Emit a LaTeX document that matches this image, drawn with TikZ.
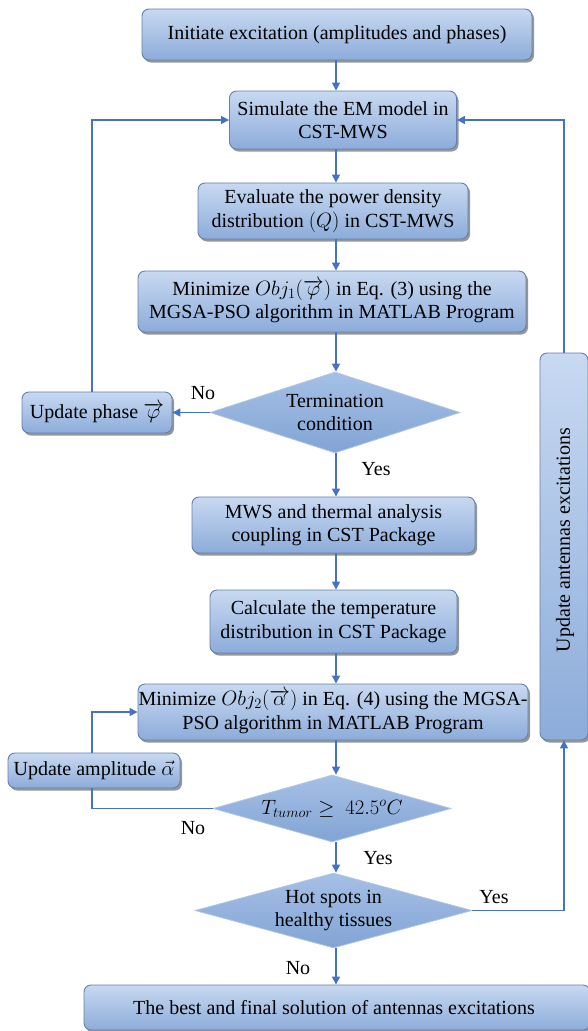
\documentclass[tikz,border=0pt]{standalone}
\usepackage{fontspec}
\setmainfont{Liberation Serif}
\usetikzlibrary{shapes.geometric,arrows.meta,shadows,calc}

\definecolor{arrowblue}{RGB}{68,114,196}
\definecolor{boxtop}{RGB}{200,217,241}
\definecolor{boxbot}{RGB}{140,172,218}
\definecolor{boxedge}{RGB}{100,128,172}
\definecolor{diatop}{RGB}{165,192,230}
\definecolor{diabot}{RGB}{130,164,212}
\definecolor{diaedge}{RGB}{175,198,230}

\begin{document}
\begin{tikzpicture}[x=1pt,y=-1pt,
  every node/.style={font=\fontsize{20}{23.5}\selectfont},
  box/.style={rectangle, rounded corners=7pt, top color=boxtop, bottom color=boxbot,
    draw=boxedge, line width=0.9pt, align=center, inner sep=0pt,
    drop shadow={shadow xshift=2pt, shadow yshift=-2.5pt, opacity=0.55, fill=black!75}},
  dia/.style={diamond, top color=diatop, bottom color=diabot, draw=diaedge, line width=0.8pt, inner sep=0pt},
  txt/.style={align=center, inner sep=0pt},
  conn/.style={draw=arrowblue, line width=1.5pt},
  arr/.style={conn, -{Triangle[length=8pt,width=8pt]}},
  lbl/.style={inner sep=0pt}
]
\useasboundingbox (0,0) rectangle (587,1031);
\coordinate (axis) at (336,0);

\node[box, minimum width=390pt, minimum height=51pt] (init) at (337,34.5) {Initiate excitation (amplitudes and phases)};
\node[box, minimum width=227pt, minimum height=58pt] (sim) at (343,120) {Simulate the EM model in\\CST-MWS};
\node[box, minimum width=270pt, minimum height=56pt] (eval) at (333,211) {Evaluate the power density\\distribution $(Q)$ in CST-MWS};
\node[box, minimum width=388pt, minimum height=61pt] (min1) at (332,301.5) {Minimize $Obj_1(\overrightarrow{\varphi})$ in Eq. (3) using the\\MGSA-PSO algorithm in MATLAB Program};
\node[dia, minimum width=250pt, minimum height=81pt] (term) at (335,412.5) {};
\node[txt] (termtxt) at (term) {Termination\\condition};
\node[box, minimum width=150pt, minimum height=41pt] (uphase) at (97,412.5) {Update phase $\overrightarrow{\varphi}$};
\node[box, minimum width=283pt, minimum height=56pt] (mws) at (333.5,525) {MWS and thermal analysis\\coupling in CST Package};
\node[box, minimum width=247pt, minimum height=63pt] (calc) at (333.5,621.5) {Calculate the temperature\\distribution in CST Package};
\node[box, minimum width=390pt, minimum height=56pt] (min2) at (333,712) {Minimize $Obj_2(\overrightarrow{\alpha})$ in Eq. (4) using the MGSA-\\PSO algorithm in MATLAB Program};
\node[box, minimum width=172pt, minimum height=35pt] (uamp) at (94,770.5) {Update amplitude $\vec{\alpha}$};
\node[dia, minimum width=238pt, minimum height=67pt] (tdia) at (332,808.5) {};
\node[txt] (tdiatxt) at (tdia) {$T_{tumor} \geq\ 42.5^{o}C$};
\node[dia, minimum width=277pt, minimum height=75pt] (hot) at (333.5,910.5) {};
\node[txt] (hottxt) at (hot) {Hot spots in\\healthy tissues};
\node[box, minimum width=506pt, minimum height=45pt] (final) at (337,1007.5) {\hspace*{-6pt}The best and final solution of antennas excitations};
\node[box, minimum width=48pt, minimum height=387pt] (ant) at (564,546.5) {};
\node[txt, rotate=90] (anttxt) at (565,540) {Update antennas excitations};

\node[lbl] (no1) at (203,393) {No};
\node[lbl] (yes1) at (376,469) {Yes};
\node[lbl] (no2) at (193,828) {No};
\node[lbl] (yes2) at (378,858) {Yes};
\node[lbl] (yes3) at (494,897) {Yes};
\node[lbl] (no3) at (298,968) {No};

\coordinate (lx) at (92,0);
\draw[arr] (axis |- init.south) -- (axis |- sim.north);
\draw[arr] (axis |- sim.south) -- (axis |- eval.north);
\draw[arr] (axis |- eval.south) -- (axis |- min1.north);
\draw[arr] (axis |- min1.south) -- (axis |- term.north);
\draw[arr] (axis |- term.south) -- (axis |- mws.north);
\draw[arr] (axis |- mws.south) -- (axis |- calc.north);
\draw[arr] (axis |- calc.south) -- (axis |- min2.north);
\draw[arr] (axis |- min2.south) -- (axis |- tdia.north);
\draw[arr] (axis |- tdia.south) -- (axis |- hot.north);
\draw[arr] (axis |- hot.south) -- (axis |- final.north);
\draw[arr] (term.west) -- (uphase.east);
\draw[arr] (lx |- uphase.north) -- (lx |- sim.west) -- (sim.west);
\draw[conn] (tdia.west) -- (tdia.west -| lx) -- (lx |- uamp.south);
\draw[arr] (lx |- uamp.north) -- (lx |- min2.west) -- (min2.west);
\draw[arr] (hot.east) -- (hot.east -| ant.south) -- (ant.south);
\draw[arr] (ant.north) -- (ant.north |- sim.east) -- (sim.east);
\end{tikzpicture}
\end{document}
